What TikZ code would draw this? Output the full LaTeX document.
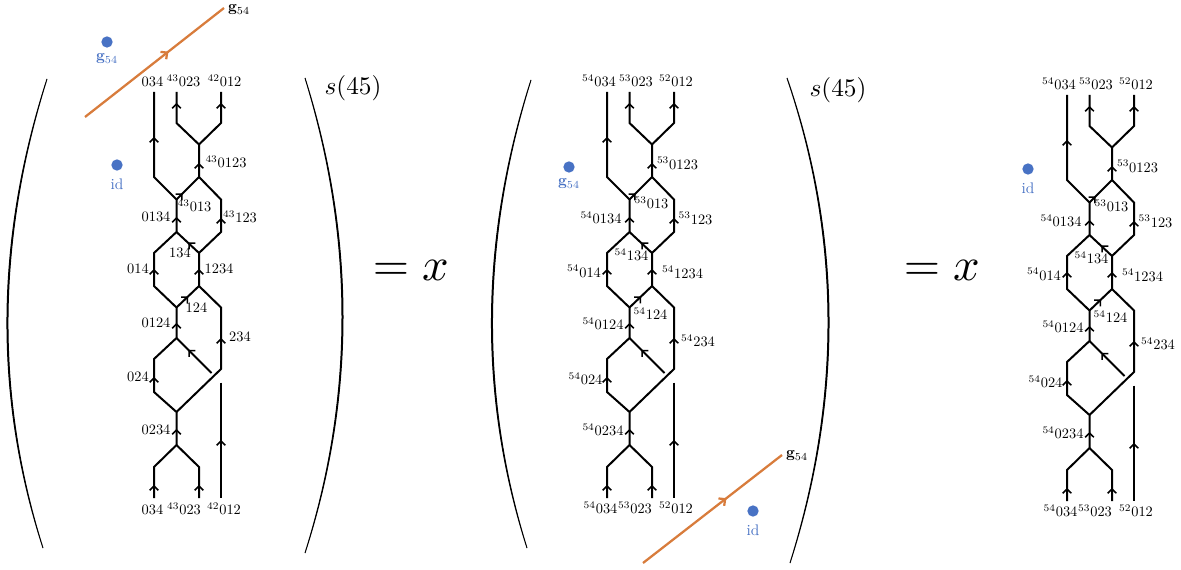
\documentclass[tikz,border=0pt]{standalone}
\usetikzlibrary{calc,arrows.meta,decorations.markings}
\definecolor{gorange}{RGB}{216,124,60}
\definecolor{dotblue}{RGB}{72,114,196}
\newcommand{\lbl}[2]{\if\relax\detokenize{#1}\relax\else$^{#1}$\fi#2}
\newcommand{\tipat}[3]{\draw[tipstyle] (#1,#2) ++({#3+180}:3) -- (#1,#2);}
\newcommand{\drawparen}[5]{%
  \coordinate (#1p0) at #2;
  \coordinate (#1m) at #3;
  \coordinate (#1p2) at #4;
  \coordinate (#1c) at ($2*(#1m)-0.5*(#1p0)-0.5*(#1p2)$);
  \coordinate (#1ci) at ($(#1c)+(#5,0)$);
  \filldraw[parenfill] (#1p0) .. controls ($(#1p0)!2/3!(#1c)$) and ($(#1p2)!2/3!(#1c)$) .. (#1p2)
    .. controls ($(#1p2)!2/3!(#1ci)$) and ($(#1p0)!2/3!(#1ci)$) .. (#1p0) -- cycle;
}
\newcommand{\braid}[1]{%
  \coordinate (#1t1) at (154,92);
  \coordinate (#1t2) at (176.5,92);
  \coordinate (#1t3) at (221,92);
  \coordinate (#1a1) at (176.5,123);
  \coordinate (#1a2) at (221,123);
  \coordinate (#1j1) at (199,144.5);
  \coordinate (#1j2) at (199,177);
  \coordinate (#1l1) at (154,177);
  \coordinate (#1j3) at (176.5,199.5);
  \coordinate (#1r1) at (221,199.5);
  \coordinate (#1j4) at (176.5,232);
  \coordinate (#1r2) at (221,232);
  \coordinate (#1j5) at (199,253);
  \coordinate (#1l2) at (154,253);
  \coordinate (#1j6) at (199,286);
  \coordinate (#1l3) at (154,286);
  \coordinate (#1j7) at (176.5,307.5);
  \coordinate (#1r3) at (221,307.5);
  \coordinate (#1j8) at (176.5,338);
  \coordinate (#1r4) at (221,369);
  \coordinate (#1l4) at (154,359);
  \coordinate (#1l5) at (154,392);
  \coordinate (#1j9) at (176.5,412);
  \coordinate (#1g1) at (211.5,373);
  \coordinate (#1g2) at (221,382.5);
  \coordinate (#1j10) at (176.5,445);
  \coordinate (#1b1) at (154,467);
  \coordinate (#1b2) at (199,467);
  \coordinate (#1e1) at (154,498);
  \coordinate (#1e2) at (199,498);
  \coordinate (#1e3) at (221,498);
  \draw[strand] (#1t1) -- (#1l1) -- (#1j3) -- (#1j4) -- (#1l2) -- (#1l3) -- (#1j7) -- (#1j8) -- (#1l4) -- (#1l5) -- (#1j9) -- (#1j10) -- (#1b1) -- (#1e1);
  \draw[strand] (#1t2) -- (#1a1) -- (#1j1) -- (#1a2) -- (#1t3);
  \draw[strand] (#1j1) -- (#1j2) -- (#1r1) -- (#1r2) -- (#1j5) -- (#1j6) -- (#1r3) -- (#1r4) -- (#1j9);
  \draw[strand] (#1j2) -- (#1j3);
  \draw[strand] (#1j4) -- (#1j5);
  \draw[strand] (#1j6) -- (#1j7);
  \draw[strand] (#1j10) -- (#1b2) -- (#1e2);
  \draw[strand] (#1j8) -- (#1g1);
  \draw[strand] (#1g2) -- (#1e3);
  \tipat{154}{137}{-90}
  \tipat{176.5}{103}{-90}
  \tipat{221}{103}{-90}
  \tipat{199}{163}{-90}
  \tipat{182.5}{193.5}{-45}
  \tipat{176.5}{217}{-90}
  \tipat{221}{218}{-90}
  \tipat{188.5}{242.5}{-135}
  \tipat{154}{269}{-90}
  \tipat{199}{269}{-90}
  \tipat{188}{296.5}{-45}
  \tipat{176.5}{323}{-90}
  \tipat{221}{338}{-90}
  \tipat{188.5}{350}{-135}
  \tipat{154}{377}{-90}
  \tipat{176.5}{429}{-90}
  \tipat{154}{485}{-90}
  \tipat{199}{485}{-90}
  \tipat{221}{440}{-90}
}
\newcommand{\labelsB}[1]{%
  \node[lab] (#1n1) at (146,86.6) {\lbl{54}{034}};
  \node[lab] (#1n2) at (183,86.6) {\lbl{53}{023}};
  \node[lab] (#1n3) at (223,86.6) {\lbl{52}{012}};
  \node[lab] (#1n4) at (224.5,169.1) {\lbl{53}{0123}};
  \node[lab] (#1n5) at (198.5,208.6) {\lbl{53}{013}};
  \node[lab] (#1n6) at (148,223.6) {\lbl{54}{0134}};
  \node[lab] (#1n7) at (242.5,224.1) {\lbl{53}{123}};
  \node[lab] (#1n8) at (178.5,260.6) {\lbl{54}{134}};
  \node[lab] (#1n9) at (131,277.1) {\lbl{54}{014}};
  \node[lab] (#1n10) at (229.5,278.1) {\lbl{54}{1234}};
  \node[lab] (#1n11) at (197.5,319.6) {\lbl{54}{124}};
  \node[lab] (#1n12) at (150,329.6) {\lbl{54}{0124}};
  \node[lab] (#1n13) at (245,346.6) {\lbl{54}{234}};
  \node[lab] (#1n14) at (132.5,384.6) {\lbl{54}{024}};
  \node[lab] (#1n15) at (150,435.6) {\lbl{54}{0234}};
  \node[lab] (#1n16) at (147.5,513.6) {\lbl{54}{034}};
  \node[lab] (#1n17) at (182,513.6) {\lbl{53}{023}};
  \node[lab] (#1n18) at (223,513.6) {\lbl{52}{012}};
}
\begin{document}
\begin{tikzpicture}[x=0.75pt,y=-0.75pt,
  strand/.style={line width=1.5pt},
  tipstyle/.style={line width=1.1pt,-{Straight Barb[length=3.2pt,width=6.5pt]}},
  lab/.style={inner sep=0pt,anchor=base,scale=1.08},
  bigeq/.style={inner sep=0pt,anchor=base west,scale=3.5},
  expo/.style={inner sep=0pt,scale=1.9},
  gline/.style={gorange,line width=1.7pt,postaction={decorate},
    decoration={markings,mark=at position 0.6 with {\arrow{Straight Barb[length=3.6pt,width=7pt]}}}},
  bdot/.style={circle,fill=dotblue,inner sep=0pt,minimum size=8.5pt},
  btext/.style={text=dotblue,inner sep=0pt,scale=1.15},
  gtext/.style={inner sep=0pt,scale=1.15},
  parenfill/.style={fill=black,draw=black,line width=0.75pt}]
\useasboundingbox (0,0) rectangle (1181,570);

% ---------- diagram 1 ----------
\begin{scope}
  \braid{P}
  \node[lab] (Pn1) at (152.5,86.6) {034};
  \node[lab] (Pn2) at (183.5,86.6) {\lbl{43}{023}};
  \node[lab] (Pn3) at (224.5,86.6) {\lbl{42}{012}};
  \node[lab] (Pn4) at (226,167.6) {\lbl{43}{0123}};
  \node[lab] (Pn5) at (194.5,212) {\lbl{43}{013}};
  \node[lab] (Pn6) at (156,221.6) {0134};
  \node[lab] (Pn7) at (240,222.6) {\lbl{43}{123}};
  \node[lab] (Pn8) at (180,257.1) {134};
  \node[lab] (Pn9) at (138,273.6) {014};
  \node[lab] (Pn10) at (219,273.6) {1234};
  \node[lab] (Pn11) at (196.5,312) {124};
  \node[lab] (Pn12) at (156,327.3) {0124};
  \node[lab] (Pn13) at (240,341.6) {234};
  \node[lab] (Pn14) at (138,381.3) {024};
  \node[lab] (Pn15) at (156,434.6) {0234};
  \node[lab] (Pn16) at (152.5,514.6) {034};
  \node[lab] (Pn17) at (184,514.6) {\lbl{43}{023}};
  \node[lab] (Pn18) at (224,514.6) {\lbl{42}{012}};
\end{scope}
\drawparen{PL}{(47,79)}{(7,317)}{(43,548)}{2}
\drawparen{PR}{(305,78)}{(343,317)}{(305,553)}{-2}
\node[expo] (s1) at (353,88) {$s(45)$};
\node[bigeq] (eq1) at (372,281) {$=x$};
\coordinate (o1a) at (85,117);
\coordinate (o1b) at (224,8);
\draw[gline] (o1a) -- (o1b);
\node[gtext] (g1) at (239,10) {$\mathbf{g}_{54}$};
\node[bdot] (d1) at (107,42) {};
\node[btext] (d1t) at (107,59) {$\mathbf{g}_{54}$};
\node[bdot] (d2) at (117,165) {};
\node[btext] (d2t) at (117,184) {id};

% ---------- diagram 2 ----------
\begin{scope}[shift={(453,0)}]
  \braid{Q}
  \labelsB{Q}
\end{scope}
\drawparen{QL}{(531,80)}{(491.5,317)}{(527,548)}{2}
\drawparen{QR}{(787,78)}{(829,318)}{(790,563)}{-2}
\node[expo] (s2) at (838,90) {$s(45)$};
\node[bigeq] (eq2) at (903,281) {$=x$};
\coordinate (o2a) at (643,563);
\coordinate (o2b) at (782,455);
\draw[gline] (o2a) -- (o2b);
\node[gtext] (g2) at (797,456) {$\mathbf{g}_{54}$};
\node[bdot] (d3) at (569,167) {};
\node[btext] (d3t) at (569,184) {$\mathbf{g}_{54}$};
\node[bdot] (d4) at (753,511) {};
\node[btext] (d4t) at (753,530) {id};

% ---------- diagram 3 ----------
\begin{scope}[shift={(913,3)}]
  \braid{R}
  \labelsB{R}
\end{scope}
\node[bdot] (d5) at (1028,169) {};
\node[btext] (d5t) at (1028,188) {id};
\end{tikzpicture}
\end{document}
